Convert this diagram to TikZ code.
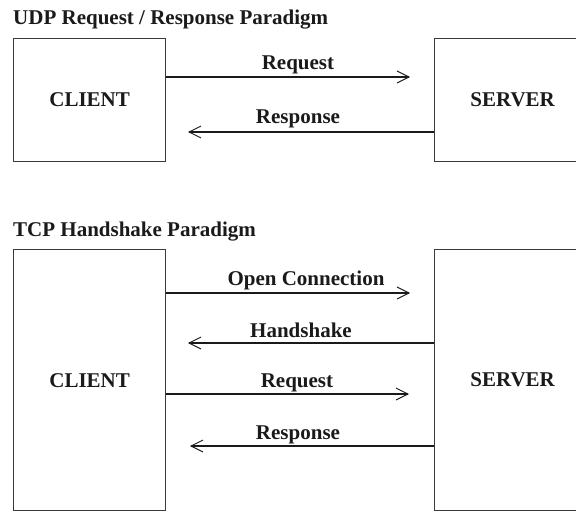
\documentclass[tikz,border=0pt]{standalone}
\usepackage{fontspec}
\setmainfont{Liberation Serif}
\usetikzlibrary{arrows.meta}
\definecolor{ink}{HTML}{1A1A1A}
\definecolor{frame}{HTML}{3A3A3A}
\tikzset{
  txt/.style={font=\fontsize{21}{25}\selectfont\bfseries, text=ink, inner sep=0pt},
  box/.style={draw=frame, line width=1.3pt, anchor=north west, txt},
  lbl/.style={txt, anchor=base},
  ttl/.style={txt, anchor=base west},
  msg/.style={draw=ink, line width=1.1pt, -{Straight Barb[length=12pt,width=12pt,line width=0.9pt]}}
}
\begin{document}
\begin{tikzpicture}[x=1pt,y=-1pt]
\useasboundingbox (0,0) rectangle (576,511);
\clip (0,0) rectangle (576,511);
\fill[white] (0,0) rectangle (576,511);

% UDP exchange
\node[ttl] (udp) at (13,25) {UDP Request / Response Paradigm};
\node[box, minimum width=152pt, minimum height=123pt] (c1) at (13,38) {CLIENT};
\node[box, minimum width=156pt, minimum height=123pt] (s1) at (434,38) {SERVER};

\coordinate (t1) at (410,77);
\coordinate (t2) at (188,132);
\draw[msg] (c1.east |- t1) -- (t1);
\draw[msg] (s1.west |- t2) -- (t2);
\node[lbl] (l1) at (298,70) {Request};
\node[lbl] (l2) at (298,123) {Response};

% TCP exchange
\node[ttl] (tcp) at (13,236) {TCP Handshake Paradigm};
\node[box, minimum width=152pt, minimum height=261pt] (c2) at (13,249) {CLIENT};
\node[box, minimum width=156pt, minimum height=261pt] (s2) at (434,249) {SERVER};

\coordinate (t3) at (410,293);
\coordinate (t4) at (188,343);
\coordinate (t5) at (409,394);
\coordinate (t6) at (190,446);
\draw[msg] (c2.east |- t3) -- (t3);
\draw[msg] (s2.west |- t4) -- (t4);
\draw[msg] (c2.east |- t5) -- (t5);
\draw[msg] (s2.west |- t6) -- (t6);
\node[lbl] (l3) at (306,285) {Open Connection};
\node[lbl] (l4) at (301,337) {Handshake};
\node[lbl] (l5) at (297,387) {Request};
\node[lbl] (l6) at (298,439) {Response};
\end{tikzpicture}
\end{document}
